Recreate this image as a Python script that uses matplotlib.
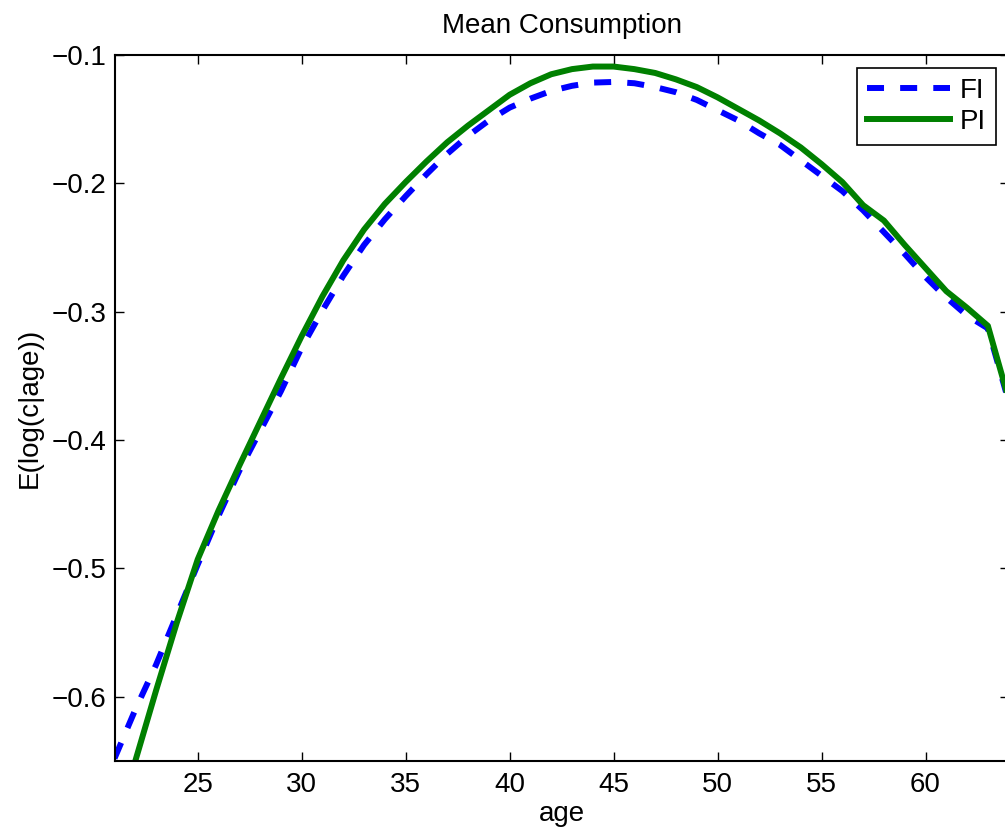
import numpy as np
import matplotlib.pyplot as plt

plt.rcParams['font.family'] = ['Liberation Sans', 'DejaVu Sans']

age = np.arange(21, 65)

# full information
fi = [-0.648, -0.610, -0.575, -0.536, -0.497, -0.459, -0.424, -0.393, -0.362, -0.328,
      -0.299, -0.272, -0.248, -0.228, -0.210, -0.193, -0.177, -0.163, -0.151, -0.141,
      -0.134, -0.128, -0.124, -0.1215, -0.121, -0.122, -0.125, -0.129, -0.135, -0.143,
      -0.151, -0.161, -0.170, -0.182, -0.194, -0.206, -0.221, -0.238, -0.255, -0.273,
      -0.289, -0.303, -0.313, -0.370]

# partial information
pi = [-0.715, -0.650, -0.595, -0.542, -0.493, -0.455, -0.420, -0.386, -0.352, -0.319,
      -0.288, -0.260, -0.236, -0.216, -0.199, -0.183, -0.168, -0.155, -0.143, -0.131,
      -0.122, -0.115, -0.111, -0.109, -0.109, -0.111, -0.114, -0.119, -0.125, -0.133,
      -0.142, -0.151, -0.161, -0.172, -0.185, -0.199, -0.217, -0.229, -0.248, -0.266,
      -0.284, -0.297, -0.311, -0.368]

xticks = [25, 30, 35, 40, 45, 50, 55, 60]
yticks = [-0.6, -0.5, -0.4, -0.3, -0.2, -0.1]

W, H = 1005, 838
fig = plt.figure(figsize=(W / 100, H / 100), dpi=100)
ax = fig.add_axes([114.5 / W, (H - 761) / H, (1008.7 - 114.5) / W, (761 - 55) / H])

l1, = ax.plot(age, fi, color='#0000ff', linewidth=4.3, linestyle='--', label='FI')
l1.set_dashes((2.85, 2.7))
ax.plot(age, pi, color='#008000', linewidth=4.3, label='PI')

ax.set_xlim(21, 64)
ax.set_ylim(-0.65, -0.1)
ax.set_xticks(xticks)
ax.set_yticks(yticks)
ax.set_yticklabels(['\u22120.6', '\u22120.5', '\u22120.4', '\u22120.3', '\u22120.2', '\u22120.1'])
ax.tick_params(direction='in', length=6.5, width=1, top=True, right=True, labelsize=20)
ax.tick_params(axis='x', pad=8)
ax.tick_params(axis='y', pad=5.8)
for s in ax.spines.values():
    s.set_linewidth(1.5)

ax.set_title('Mean Consumption', fontsize=20, pad=16)
ax.set_xlabel('age', fontsize=20, labelpad=2)
ax.set_ylabel('E(log(c|age))', fontsize=20, labelpad=6)

leg = ax.legend(loc='upper right', fontsize=20, fancybox=False, framealpha=1,
                edgecolor='black', handlelength=3.0, borderaxespad=0.46,
                handletextpad=0.35, borderpad=0.35, labelspacing=0.2)
leg.get_frame().set_linewidth(1.2)

fig.savefig('out.png', dpi=100)
